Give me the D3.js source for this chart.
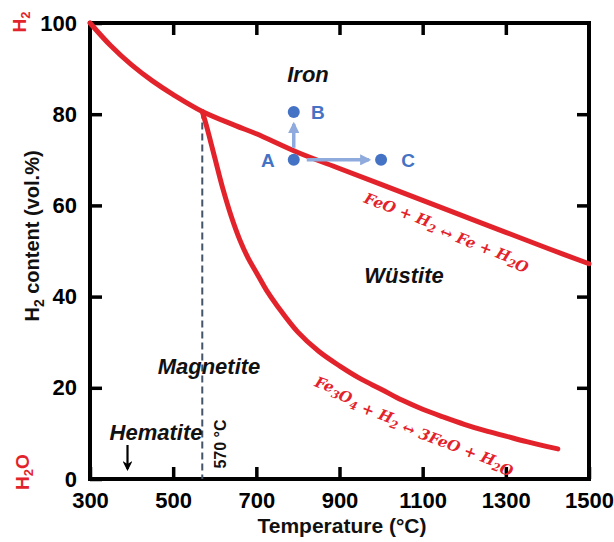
<!DOCTYPE html>
<html>
<head>
<meta charset="utf-8">
<script src="https://cdn.jsdelivr.net/npm/d3@7"></script>
<style>
  html, body { margin: 0; padding: 0; background: #fff; }
  svg { display: block; font-family: "Liberation Sans", Arial, sans-serif; }
</style>
</head>
<body>
<svg id="chart" width="614" height="542"></svg>
<script>
// Fe–H2–O equilibrium (Baur–Glaessner) boundaries
const xTicks = [300, 500, 700, 900, 1100, 1300, 1500];
const yTicks = [0, 20, 40, 60, 80, 100];

// FeO / Fe boundary
const feoFeTemp = [300, 350, 400, 450, 500, 570, 650, 700, 800, 900, 1000, 1100, 1200, 1300, 1400, 1500];
const feoFeH2   = [100, 95.0, 90.8, 87.3, 84.3, 80.6, 77.5, 75.7, 71.6, 68.1, 64.6, 61.1, 57.6, 54.1, 50.6, 47.2];

// Fe3O4 / FeO boundary
const magWusTemp = [570, 580, 590, 600, 620, 640, 660, 680, 700, 725, 750, 800, 850, 900, 950, 1000, 1050, 1100, 1150, 1200, 1250, 1300, 1350, 1400, 1425];
const magWusH2   = [80.6, 77.5, 74.0, 70.5, 63.5, 57.5, 52.5, 48.5, 45.3, 41.3, 38.0, 32.2, 28.0, 24.8, 22.0, 19.7, 17.3, 15.3, 13.6, 12.0, 10.6, 9.4, 8.2, 7.1, 6.6];

// Triple point temperature
const tripleTemp = 570;
const tripleH2 = 80.6;

// Example gas states
const stateNames = ["A", "B", "C"];
const stateTemp  = [790, 790, 1000];
const stateH2    = [70, 80.5, 70];

const svg = d3.select("#chart");
const x = d3.scaleLinear().domain([300, 1500]).range([90, 589]);
const y = d3.scaleLinear().domain([0, 100]).range([479, 23]);

const red = "#e3232b";
const blue = "#4472c4";
const lightBlue = "#8faadc";

const defs = svg.append("defs");
defs.append("marker").attr("id", "headBlue")
  .attr("viewBox", "0 0 10 10").attr("refX", 8).attr("refY", 5)
  .attr("markerWidth", 3.2).attr("markerHeight", 3.2).attr("orient", "auto")
  .append("path").attr("d", "M0,0 L10,5 L0,10 z").attr("fill", lightBlue);
defs.append("marker").attr("id", "headBlack")
  .attr("viewBox", "0 0 10 10").attr("refX", 8).attr("refY", 5)
  .attr("markerWidth", 4.5).attr("markerHeight", 4.5).attr("orient", "auto")
  .append("path").attr("d", "M0,0 L10,5 L0,10 L3,5 z").attr("fill", "#000");

// Axes with inward ticks on all four sides
const tickFont = g => g.selectAll("text")
  .attr("font-size", 22).attr("font-weight", "bold").attr("fill", "#000")
  .attr("font-family", "'Liberation Sans', Arial, sans-serif");
const tickLines = g => {
  g.select(".domain").remove();
  g.selectAll("line").attr("stroke", "#000").attr("stroke-width", 3.5);
};

svg.append("g").attr("transform", `translate(0,${y(0)})`)
  .call(d3.axisBottom(x).tickValues(xTicks).tickSizeInner(-12).tickSizeOuter(0).tickPadding(13).tickFormat(d3.format("d")))
  .call(tickLines).call(tickFont);
svg.append("g").attr("transform", `translate(0,${y(100)})`)
  .call(d3.axisTop(x).tickValues(xTicks.slice(1, -1)).tickSizeInner(-12).tickSizeOuter(0).tickFormat(""))
  .call(tickLines);
svg.append("g").attr("transform", `translate(${x(300)},0)`)
  .call(d3.axisLeft(y).tickValues(yTicks).tickSizeInner(-12).tickSizeOuter(0).tickPadding(13))
  .call(tickLines).call(tickFont);
svg.append("g").attr("transform", `translate(${x(1500)},0)`)
  .call(d3.axisRight(y).tickValues(yTicks.slice(1, -1)).tickSizeInner(-12).tickSizeOuter(0).tickFormat(""))
  .call(tickLines);

// Plot frame
svg.append("rect")
  .attr("x", x(300)).attr("y", y(100))
  .attr("width", x(1500) - x(300)).attr("height", y(0) - y(100))
  .attr("fill", "none").attr("stroke", "#000").attr("stroke-width", 4);

// 570 °C dashed line
svg.append("line")
  .attr("x1", x(tripleTemp)).attr("x2", x(tripleTemp))
  .attr("y1", y(tripleH2)).attr("y2", y(0))
  .attr("stroke", "#44546a").attr("stroke-width", 2).attr("stroke-dasharray", "7,4");

// Equilibrium curves
const line = d3.line().x(d => x(d[0])).y(d => y(d[1])).curve(d3.curveCatmullRom.alpha(0.5));
svg.append("path").datum(feoFeTemp.map((t, i) => [t, feoFeH2[i]]))
  .attr("d", line).attr("fill", "none").attr("stroke", red)
  .attr("stroke-width", 5).attr("stroke-linecap", "round").attr("stroke-linejoin", "round");
svg.append("path").datum(magWusTemp.map((t, i) => [t, magWusH2[i]]))
  .attr("d", line).attr("fill", "none").attr("stroke", red)
  .attr("stroke-width", 5).attr("stroke-linecap", "round").attr("stroke-linejoin", "round");

// Gas state arrows A→B and A→C
svg.append("line")
  .attr("x1", x(stateTemp[0])).attr("x2", x(stateTemp[1]))
  .attr("y1", y(stateH2[0]) - 12).attr("y2", y(stateH2[1]) + 12)
  .attr("stroke", lightBlue).attr("stroke-width", 3.5).attr("marker-end", "url(#headBlue)");
svg.append("line")
  .attr("x1", x(stateTemp[0]) + 13).attr("x2", x(stateTemp[2]) - 12)
  .attr("y1", y(stateH2[0])).attr("y2", y(stateH2[2]))
  .attr("stroke", lightBlue).attr("stroke-width", 3.5).attr("marker-end", "url(#headBlue)");

const states = stateNames.map((n, i) => ({ n, t: stateTemp[i], h: stateH2[i] }));
svg.selectAll("circle.state").data(states).join("circle")
  .attr("class", "state")
  .attr("cx", d => x(d.t)).attr("cy", d => y(d.h)).attr("r", 6).attr("fill", blue);
const labelDx = { A: -26, B: 24, C: 27 };
svg.selectAll("text.state").data(states).join("text")
  .attr("class", "state")
  .attr("x", d => x(d.t) + labelDx[d.n]).attr("y", d => y(d.h) + 7)
  .attr("text-anchor", "middle").attr("font-size", 19).attr("font-weight", "bold")
  .attr("fill", blue).text(d => d.n);

// Phase region names
const regions = [
  { text: "Iron", x: 308, y: 82 },
  { text: "Wüstite", x: 404, y: 283 },
  { text: "Magnetite", x: 209, y: 374 },
  { text: "Hematite", x: 156, y: 440 }
];
svg.selectAll("text.region").data(regions).join("text")
  .attr("class", "region")
  .attr("x", d => d.x).attr("y", d => d.y)
  .attr("text-anchor", "middle").attr("font-size", 22)
  .attr("font-weight", "bold").attr("font-style", "italic").attr("fill", "#111")
  .text(d => d.text);

// Hematite arrow
svg.append("line")
  .attr("x1", 127.5).attr("x2", 127.5).attr("y1", 445).attr("y2", 469)
  .attr("stroke", "#000").attr("stroke-width", 2.2).attr("marker-end", "url(#headBlack)");

// 570 °C label
svg.append("text")
  .attr("transform", `translate(${x(tripleTemp) + 24},444) rotate(-90)`)
  .attr("text-anchor", "middle").attr("font-size", 16).attr("font-weight", "bold")
  .attr("fill", "#111").text("570 °C");

// Reaction labels along the curves
function reaction(g, parts) {
  const t = g.append("text")
    .attr("font-family", "'DejaVu Serif', 'Liberation Serif', serif")
    .attr("font-weight", "bold").attr("font-style", "italic")
    .attr("fill", red).attr("text-anchor", "middle");
  parts.forEach(p => {
    if (p.sub) {
      t.append("tspan").attr("font-size", 11).attr("dy", 4).text(p.sub);
      t.append("tspan").attr("dy", -4).text("");
    } else {
      t.append("tspan").text(p.t);
    }
  });
  return t;
}
const r1 = svg.append("g").attr("transform", "translate(446,234) rotate(21)");
reaction(r1, [{ t: "FeO + H" }, { sub: "2" }, { t: " ↔ Fe + H" }, { sub: "2" }, { t: "O" }])
  .attr("font-size", 15);
const r2 = svg.append("g").attr("transform", "translate(415,424) rotate(20.5)");
reaction(r2, [{ t: "Fe" }, { sub: "3" }, { t: "O" }, { sub: "4" }, { t: " + H" }, { sub: "2" }, { t: " ↔ 3FeO + H" }, { sub: "2" }, { t: "O" }])
  .attr("font-size", 15);

// Axis titles
svg.append("text")
  .attr("x", 342).attr("y", 533).attr("text-anchor", "middle")
  .attr("font-size", 21).attr("font-weight", "bold").attr("fill", "#111")
  .text("Temperature (°C)");

const yt = svg.append("text")
  .attr("transform", "translate(39,236) rotate(-90)")
  .attr("text-anchor", "middle").attr("font-size", 20).attr("font-weight", "bold").attr("fill", "#111");
yt.append("tspan").text("H");
yt.append("tspan").attr("font-size", 14).attr("dy", 5).text("2");
yt.append("tspan").attr("dy", -5).text(" content (vol.%)");

// Gas composition end labels
const h2 = svg.append("text")
  .attr("transform", "translate(26,22) rotate(-90)")
  .attr("text-anchor", "middle").attr("font-size", 19).attr("font-weight", "bold").attr("fill", red);
h2.append("tspan").text("H");
h2.append("tspan").attr("font-size", 13).attr("dy", 4).text("2");

const h2o = svg.append("text")
  .attr("transform", "translate(29,472) rotate(-90)")
  .attr("text-anchor", "middle").attr("font-size", 19).attr("font-weight", "bold").attr("fill", red);
h2o.append("tspan").text("H");
h2o.append("tspan").attr("font-size", 13).attr("dy", 4).text("2");
h2o.append("tspan").attr("dy", -4).text("O");
</script>
</body>
</html>
